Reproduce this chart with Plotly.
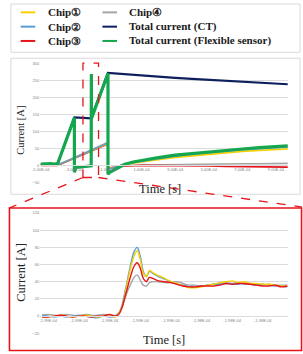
import plotly.graph_objects as go

W, H = 303, 354

# ---------------- data ----------------
series_names = ["Chip①", "Chip②", "Chip③", "Chip④", "Total current (CT)", "Total current (Flexible sensor)"]
series_colors = ["#f7d000", "#5b9bd5", "#e8141c", "#a5a5a5", "#0d1f5c", "#15a650"]

# Overview chart (time in seconds)
chip_t = [-5.0e-4, -4.5e-4, -4.0e-4, -3.0e-4, -2.0e-4, -1.0e-4, -1.0e-4, -0.5e-4, 0.0, 1.0e-4, 2.0e-4,
          3.0e-4, 4.0e-4, 5.0e-4, 6.0e-4, 7.0e-4, 8.0e-4, 9.0e-4, 9.7e-4]
chip1_v = [1, 1, 1, 22, 43, 64, -10, -4, 2, 10, 17, 23, 28, 33, 37, 41, 44, 47, 48]
chip2_v = [1, 1, 1, 22, 44, 66, -12, -4, 4, 12, 20, 27, 33, 38, 42, 46, 49, 52, 54]
chip3_v = [0, 1, 0, 21, 42, 63, -8, -4, -2, 0, 0, -1, -1, -2, -3, -3, -4, -5, -5]
chip4_v = [1, 2, 1, 23, 45, 68, -8, -4, -1, 1, 2, 3, 3, 4, 4, 5, 5, 5, 6]

ct_t = [-5.0e-4, -4.0e-4, -3.0e-4, -2.5e-4, -2.0e-4, -1.0e-4, 0.0, 1.0e-4, 2.0e-4, 3.0e-4, 4.0e-4,
        5.0e-4, 6.0e-4, 7.0e-4, 8.0e-4, 9.0e-4, 9.7e-4]
ct_v = [3, 4, 141, 139, 138, 271, 267, 263, 260, 257, 254, 251, 248, 245, 242, 240, 238]

flex_t = [-5.0e-4, -4.8e-4, -4.6e-4, -4.4e-4, -4.2e-4, -4.0e-4, -3.0e-4, -3.0e-4, -2.9e-4, -2.5e-4,
          -2.0e-4, -1.99e-4, -1.98e-4, -1.0e-4, -1.0e-4, -0.9e-4, -0.6e-4, -0.3e-4, 0.0, 0.5e-4,
          1.0e-4, 2.0e-4, 3.0e-4, 4.0e-4, 5.0e-4, 6.0e-4, 7.0e-4, 8.0e-4, 9.0e-4, 9.7e-4]
flex_v = [4, 5, 4, 5, 4, 5, 140, -20, -6, -3, -1, 268, 138, 270, -26, -20, -12, -4, 3, 10,
          15, 23, 30, 35, 40, 44, 48, 52, 55, 57]

top_xticks = [-5e-4, -3e-4, -1e-4, 1e-4, 3e-4, 5e-4, 7e-4, 9e-4]
top_xlabels = ["-5.00E-04", "-3.00E-04", "-1.00E-04", "1.00E-04", "3.00E-04", "5.00E-04", "7.00E-04", "9.00E-04"]
top_yticks = [-50, 0, 50, 100, 150, 200, 250, 300]

# Zoomed chart (time in microseconds)
zoom_t_us = [-199.49, -199.45, -199.41, -199.37, -199.33, -199.29, -199.25, -199.21, -199.17, -199.13,
             -199.09, -199.05, -199.01, -198.99, -198.97, -198.95, -198.93, -198.91, -198.89, -198.87,
             -198.85, -198.83, -198.81, -198.79, -198.77, -198.73, -198.69, -198.65, -198.61, -198.57,
             -198.53, -198.49, -198.45, -198.41, -198.37, -198.33, -198.29, -198.25, -198.21, -198.17,
             -198.13, -198.09, -198.05, -198.01, -197.97, -197.93, -197.89]
zoom_chip1 = [-1, -1, 0, 1, 0, -1, 0, 1, 0, -1, 0, 0, -1, 3, 10, 25, 42, 58, 70, 76,
              66, 50, 46, 53, 51, 47, 44, 40, 38, 35, 33, 33, 34, 36, 37, 39, 40, 41, 39, 40,
              38, 38, 37, 37, 36, 35, 35]
zoom_chip2 = [1, 0, -1, 0, -1, 0, 1, 0, -1, -2, 0, -1, 0, 3, 12, 28, 45, 62, 75, 80,
              70, 52, 46, 52, 50, 46, 43, 40, 37, 36, 34, 34, 35, 36, 37, 37, 38, 37, 37, 38,
              37, 36, 37, 36, 35, 35, 34]
zoom_chip3 = [-1, -1, 0, 1, 0, -1, 0, 0, -1, 0, 0, 2, 0, 2, 9, 22, 35, 48, 58, 62,
              56, 44, 40, 45, 44, 41, 40, 39, 37, 35, 34, 34, 35, 35, 35, 36, 38, 37, 38, 38,
              37, 36, 35, 35, 36, 34, 35]
zoom_chip4 = [1, 2, 1, 1, 2, 1, 0, 2, 1, 1, 2, 1, 1, 4, 10, 20, 30, 38, 45, 48,
              42, 36, 35, 39, 40, 40, 39, 39, 40, 38, 36, 36, 35, 36, 37, 38, 39, 38, 39, 37,
              38, 37, 36, 37, 36, 36, 36]

bot_xticks = [-199.45, -199.25, -199.05, -198.85, -198.65, -198.45, -198.25, -198.05]
bot_xlabels = ["-1.99E-04"] * 5 + ["-1.98E-04"] * 3
bot_yticks = [-20, 0, 20, 40, 60, 80, 100, 120]

# ---------------- helpers ----------------
def px(x):
    return x / W

def py(y):
    return 1 - y / H

fig = go.Figure()

overview = [(chip_t, chip4_v, 3), (chip_t, chip3_v, 2), (chip_t, chip1_v, 0), (chip_t, chip2_v, 1),
            (ct_t, ct_v, 4), (flex_t, flex_v, 5)]
widths = {0: 1.6, 1: 1.6, 2: 1.6, 3: 1.6, 4: 2.2, 5: 3.2}
for t, v, i in overview:
    fig.add_trace(go.Scatter(x=t, y=v, mode="lines", name=series_names[i], showlegend=False,
                             line=dict(color=series_colors[i], width=widths[i]),
                             xaxis="x", yaxis="y"))

for v, i in [(zoom_chip4, 3), (zoom_chip2, 1), (zoom_chip1, 0), (zoom_chip3, 2)]:
    fig.add_trace(go.Scatter(x=zoom_t_us, y=v, mode="lines", name=series_names[i], showlegend=False,
                             line=dict(color=series_colors[i], width=1.4, shape="spline"),
                             xaxis="x2", yaxis="y2"))

tickfont = dict(size=4, color="#7f7f7f", family="Liberation Sans")
grid = "#dcdcdc"

top_dom_y = [py(182), py(61)]
bot_dom_y = [py(335), py(213)]
dom_x = [px(33), px(288)]

top_zero = top_dom_y[0] + (50 / 350) * (top_dom_y[1] - top_dom_y[0])
bot_zero = bot_dom_y[0] + (20 / 140) * (bot_dom_y[1] - bot_dom_y[0])

fig.update_layout(
    width=W, height=H, margin=dict(l=0, r=0, t=0, b=0),
    paper_bgcolor="white", plot_bgcolor="white",
    xaxis=dict(domain=dom_x, range=[-5.04e-4, 9.74e-4], tickvals=top_xticks, ticktext=top_xlabels,
               anchor="free", position=top_zero, showgrid=False, zeroline=False,
               showline=True, linecolor=grid, linewidth=1, ticks="", tickfont=tickfont),
    yaxis=dict(domain=top_dom_y, range=[-50, 300], tickvals=top_yticks, showgrid=True, gridcolor=grid,
               gridwidth=0.8, zeroline=False, showline=False, ticks="", tickfont=tickfont, anchor="x"),
    xaxis2=dict(domain=dom_x, range=[-199.503, -197.883], tickvals=bot_xticks, ticktext=bot_xlabels,
                anchor="free", position=bot_zero, showgrid=False, zeroline=False,
                showline=True, linecolor=grid, linewidth=1, ticks="", tickfont=tickfont),
    yaxis2=dict(domain=bot_dom_y, range=[-20, 120], tickvals=bot_yticks, showgrid=True, gridcolor=grid,
                gridwidth=0.8, zeroline=False, showline=False, ticks="", tickfont=tickfont, anchor="x2"),
)

shapes = []
# legend box and panels
shapes.append(dict(type="rect", xref="paper", yref="paper", x0=px(3), x1=px(300), y0=py(50), y1=py(1),
                   line=dict(color="#d9d9d9", width=1)))
shapes.append(dict(type="rect", xref="paper", yref="paper", x0=px(3), x1=px(300), y0=py(194), y1=py(56),
                   line=dict(color="#d9d9d9", width=1)))
shapes.append(dict(type="rect", xref="paper", yref="paper", x0=px(1.5), x1=px(301.5), y0=py(352.5), y1=py(208),
                   line=dict(color="#e8141c", width=1.6)))
# zoom indicator
red = "#e8141c"
shapes.append(dict(type="rect", xref="paper", yref="paper", x0=px(77), x1=px(93), y0=py(177), y1=py(61),
                   line=dict(color=red, width=1.3, dash="dash")))
shapes.append(dict(type="line", xref="paper", yref="paper", x0=px(77), x1=px(1), y0=py(177), y1=py(208),
                   line=dict(color=red, width=1.3, dash="dash")))
shapes.append(dict(type="line", xref="paper", yref="paper", x0=px(93), x1=px(302), y0=py(177), y1=py(207),
                   line=dict(color=red, width=1.3, dash="dash")))

annotations = []
# manual legend
leg_rows = [9.5, 24, 38.5]
leg_cols = [(13, 28, 39), (97, 112, 122)]
for i, name in enumerate(series_names):
    col, row = divmod(i, 3)
    x0, x1, xt = leg_cols[col]
    yr = leg_rows[row]
    shapes.append(dict(type="line", xref="paper", yref="paper", x0=px(x0), x1=px(x1), y0=py(yr), y1=py(yr),
                       line=dict(color=series_colors[i], width=2)))
    annotations.append(dict(xref="paper", yref="paper", x=px(xt), y=py(yr), text="<b>" + name + "</b>",
                            showarrow=False, xanchor="left", yanchor="middle",
                            font=dict(family="Liberation Serif", size=11, color="#1a1a1a")))

serif = "Liberation Serif"
annotations.append(dict(xref="paper", yref="paper", x=px(13), y=py(129), text="Current [A]", textangle=-90,
                        showarrow=False, xanchor="center", yanchor="middle",
                        font=dict(family=serif, size=10.5, color="#222")))
annotations.append(dict(xref="paper", yref="paper", x=px(156), y=py(189), text="Time [s]",
                        showarrow=False, xanchor="center", yanchor="middle",
                        font=dict(family=serif, size=12.5, color="#222")))
annotations.append(dict(xref="paper", yref="paper", x=px(14), y=py(273), text="Current [A]", textangle=-90,
                        showarrow=False, xanchor="center", yanchor="middle",
                        font=dict(family=serif, size=12.5, color="#222")))
annotations.append(dict(xref="paper", yref="paper", x=px(160), y=py(342), text="Time [s]",
                        showarrow=False, xanchor="center", yanchor="middle",
                        font=dict(family=serif, size=12.5, color="#222")))

fig.update_layout(shapes=shapes, annotations=annotations)
fig.write_html("out.html")
